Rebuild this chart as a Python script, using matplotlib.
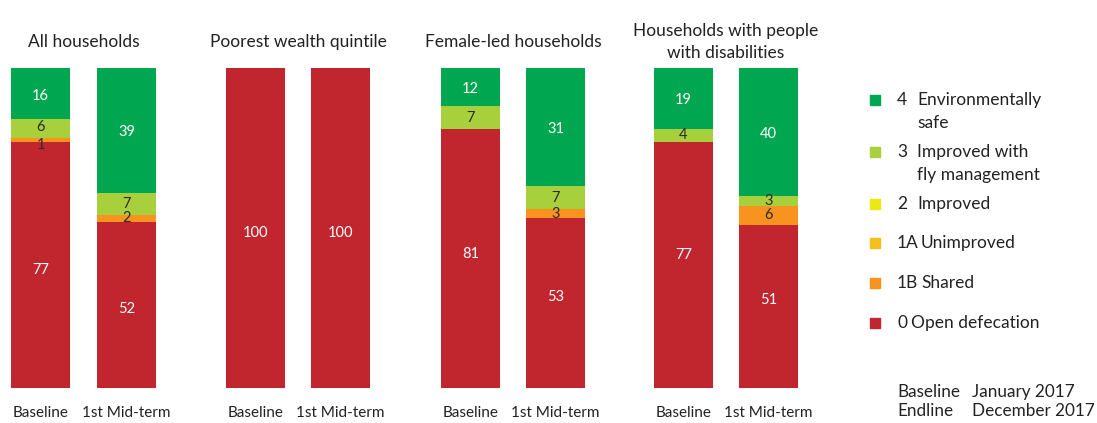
import matplotlib
matplotlib.use("Agg")
import matplotlib.pyplot as plt
from matplotlib.patches import Rectangle

plt.rcParams['font.family'] = ['Lato', 'DejaVu Sans']

groups = ["All households", "Poorest wealth quintile", "Female-led households",
          "Households with people\nwith disabilities"]
periods = ["Baseline", "1st Mid-term"]

# values per bar: group-major, baseline then mid-term
open_def     = [77, 52, 100, 100, 81, 53, 77, 51]
shared       = [1, 2, 0, 0, 0, 3, 0, 6]
unimproved   = [0, 0, 0, 0, 0, 0, 0, 0]
improved     = [0, 0, 0, 0, 0, 0, 0, 0]
improved_fly = [6, 7, 0, 0, 7, 7, 4, 3]
env_safe     = [16, 39, 0, 0, 12, 31, 19, 40]

series_names = ["0 Open defecation", "1B Shared", "1A Unimproved", "2 Improved",
                "3 Improved with\nfly management", "4 Environmentally\nsafe"]
series = [open_def, shared, unimproved, improved, improved_fly, env_safe]
colors = ["#C1262F", "#F7931E", "#F5C01C", "#EEE812", "#A8CF3C", "#00A650"]
label_colors = ["white", "#2b2b2b", "#2b2b2b", "#2b2b2b", "#2b2b2b", "white"]

W, H = 1097, 423
fig = plt.figure(figsize=(W / 100, H / 100), dpi=100)
ax = fig.add_axes([0, 1 - 388 / H, 1, 320 / H])
ax.set_xlim(0, W)
ax.set_ylim(0, 100)
ax.axis('off')

centers = [40.5, 126.5, 255.5, 340.5, 470.5, 555.5, 683.5, 768.5]
bw = 59
# manual label nudges (pixels, downward) for the open-defecation labels
red_nudge_px = [5, 4, 5, 5, -4, -6, -10, -6]
px_per_unit = 320 / 100

for i, c in enumerate(centers):
    bottom = 0
    for s, vals in enumerate(series):
        v = vals[i]
        top_seg = s == len(series) - 1 and v > 0
        h = (100 - bottom) if top_seg else v
        if h <= 0:
            continue
        ax.bar(c, h, width=bw, bottom=bottom, color=colors[s], linewidth=0)
        ty = bottom + h / 2
        if s == 0:
            ty -= red_nudge_px[i] / px_per_unit
        elif s == len(series) - 1:
            ty -= 2 / px_per_unit
        elif s == 1 and v < 2:
            ty -= 5 / px_per_unit
        elif s == 4 and shared[i] < 2 and shared[i] > 0:
            ty += 2 / px_per_unit
        ax.text(c, ty, str(v), ha='center', va='center',
                fontsize=10.5, color=label_colors[s])
        bottom += h

# group titles
for g, name in enumerate(groups):
    gx = (centers[2 * g] + centers[2 * g + 1]) / 2
    fig.text(gx / W, 1 - 42 / H, name, ha='center', va='center',
             fontsize=12.5, color='#222222', linespacing=1.45)

# x labels
for i, c in enumerate(centers):
    fig.text(c / W, 1 - 413 / H, periods[i % 2], ha='center', va='center',
             fontsize=11, color='#222222')

# legend
leg_y = [323, 283, 243, 204, 152, 100]
leg_label_x = [911, 921, 921, 917, 917, 917]
for s, name in enumerate(series_names):
    y = leg_y[s]
    fig.patches.append(Rectangle((870 / W, 1 - (y + 5) / H), 10 / W, 10 / H,
                                 transform=fig.transFigure, color=colors[s]))
    num, label = name.split(" ", 1)
    fig.text(897 / W, 1 - y / H, num, ha='left', va='center', fontsize=12.5, color='#222222')
    lines = label.split("\n")
    for k, line in enumerate(lines):
        fig.text(leg_label_x[s] / W, 1 - (y + 23 * k) / H, line, ha='left', va='center',
                 fontsize=12.5, color='#222222')

fig.text(897 / W, 1 - 392 / H, "Baseline", ha='left', va='center', fontsize=12.3, color='#222222')
fig.text(972 / W, 1 - 392 / H, "January 2017", ha='left', va='center', fontsize=12.3, color='#222222')
fig.text(897 / W, 1 - 411 / H, "Endline", ha='left', va='center', fontsize=12.3, color='#222222')
fig.text(972 / W, 1 - 411 / H, "December 2017", ha='left', va='center', fontsize=12.3, color='#222222')

fig.savefig("out.png", dpi=100)
